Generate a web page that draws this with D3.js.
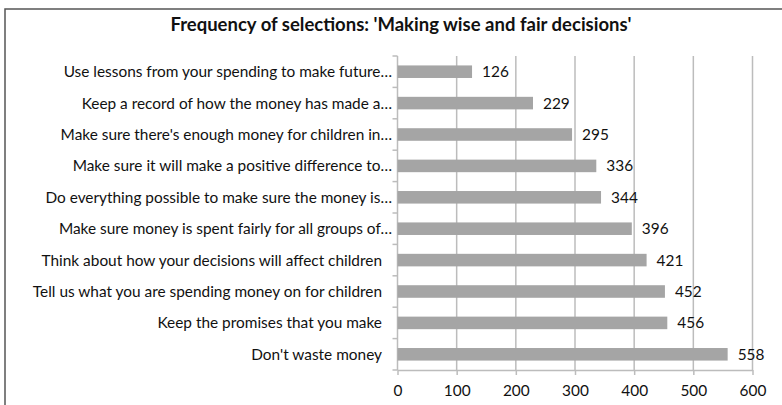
<!DOCTYPE html>
<html>
<head>
<meta charset="utf-8">
<script src="https://cdn.jsdelivr.net/npm/d3@7"></script>
<style>
  html, body { margin: 0; padding: 0; background: #fff; }
  svg { display: block; }
  text { font-family: Lato, "Open Sans", sans-serif; fill: #111; }
</style>
</head>
<body>
<svg id="chart" width="782" height="405"></svg>
<script>
const title = "Frequency of selections: 'Making wise and fair decisions'";
const categories = [
  "Use lessons from your spending to make future…",
  "Keep a record of how the money has made a…",
  "Make sure there's enough money for children in…",
  "Make sure it will make a positive difference to…",
  "Do everything possible to make sure the money is…",
  "Make sure money is spent fairly for all groups of…",
  "Think about how your decisions will affect children",
  "Tell us what you are spending money on for children",
  "Keep the promises that you make",
  "Don't waste money"
];
const values = [126, 229, 295, 336, 344, 396, 421, 452, 456, 558];
const xTicks = [0, 100, 200, 300, 400, 500, 600];

const svg = d3.select("#chart");
const W = 782, H = 405;
const plot = { left: 397.5, right: 752.5, top: 56, bottom: 370 };
const fs = "15.4px";

// chart border
svg.append("rect")
  .attr("x", 5).attr("y", 9)
  .attr("width", W + 20).attr("height", H + 20)
  .attr("fill", "#fff").attr("stroke", "#555").attr("stroke-width", 1.5);

svg.append("text")
  .attr("x", 401).attr("y", 30.5)
  .attr("text-anchor", "middle")
  .style("font-weight", "bold").style("font-size", "18.5px")
  .text(title);

const x = d3.scaleLinear().domain([0, 600]).range([plot.left, plot.right]);
const y = d3.scaleBand().domain(categories).range([plot.top, plot.bottom])
  .paddingInner(0.6).paddingOuter(0.3);
const step = y.step();
const gridColor = "#bcbcbc";

// vertical gridlines
svg.append("g").selectAll("line").data(xTicks.slice(1)).join("line")
  .attr("x1", d => x(d)).attr("x2", d => x(d))
  .attr("y1", plot.top).attr("y2", plot.bottom)
  .attr("stroke", gridColor).attr("stroke-width", 1.5);

// x axis
const xAxis = svg.append("g")
  .attr("transform", `translate(0,${plot.bottom})`)
  .call(d3.axisBottom(x).tickValues(xTicks).tickSize(5).tickSizeOuter(0).tickPadding(10));
xAxis.select(".domain").attr("stroke", gridColor).attr("stroke-width", 1.5);
xAxis.selectAll(".tick line").attr("stroke", gridColor).attr("stroke-width", 1.5);
xAxis.selectAll(".tick text")
  .style("font-family", "Lato, sans-serif").style("font-size", fs).attr("fill", "#111");

// y axis line and category ticks at band boundaries
svg.append("line")
  .attr("x1", plot.left).attr("x2", plot.left)
  .attr("y1", plot.top).attr("y2", plot.bottom)
  .attr("stroke", gridColor).attr("stroke-width", 1.5);
svg.append("g").selectAll("line").data(d3.range(categories.length + 1)).join("line")
  .attr("x1", plot.left - 5).attr("x2", plot.left)
  .attr("y1", i => plot.top + i * step).attr("y2", i => plot.top + i * step)
  .attr("stroke", gridColor).attr("stroke-width", 1.5);

// bars
svg.append("g").selectAll("rect").data(values).join("rect")
  .attr("x", x(0))
  .attr("y", (d, i) => y(categories[i]))
  .attr("width", d => x(d) - x(0))
  .attr("height", y.bandwidth())
  .attr("fill", "#a5a5a5");

// value labels
svg.append("g").selectAll("text").data(values).join("text")
  .attr("x", d => x(d) + 10)
  .attr("y", (d, i) => y(categories[i]) + y.bandwidth() / 2)
  .attr("dy", "0.36em")
  .style("font-size", fs)
  .text(d => d);

// category labels
svg.append("g").selectAll("text").data(categories).join("text")
  .attr("x", d => d.endsWith("…") ? plot.left - 5.5 : plot.left - 15.5)
  .attr("y", d => y(d) + y.bandwidth() / 2)
  .attr("dy", "0.36em")
  .attr("text-anchor", "end")
  .style("font-size", fs)
  .text(d => d);
</script>
</body>
</html>
